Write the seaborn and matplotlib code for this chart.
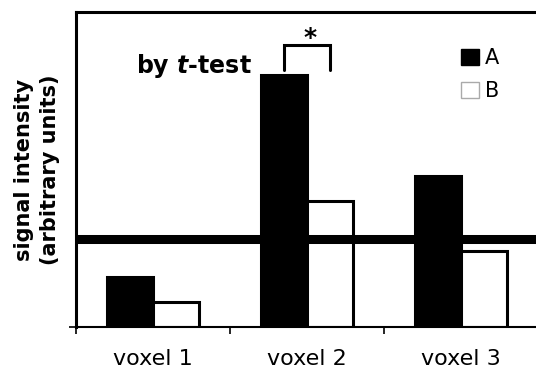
import matplotlib
matplotlib.use("Agg")
import matplotlib.pyplot as plt
import seaborn as sns
import pandas as pd
from matplotlib.patches import Patch

voxels = ["voxel 1", "voxel 2", "voxel 3"]
values_A = [1.6, 8.0, 4.8]
values_B = [0.8, 4.0, 2.4]
threshold = 2.8
conditions = ["A", "B"]

df = pd.DataFrame({
    "voxel": voxels * 2,
    "value": values_A + values_B,
    "cond": ["A"] * 3 + ["B"] * 3,
})

sns.set_style("white")
plt.rcParams['font.family'] = ['DejaVu Sans']
plt.rcParams.update({"text.color": "black", "axes.labelcolor": "black",
                     "xtick.color": "black", "ytick.color": "black"})

fig = plt.figure(figsize=(5.36, 3.71), dpi=100)
ax = fig.add_axes([76/536, 1 - 327/371, 462/536, 315/371])

sns.barplot(data=df, x="voxel", y="value", hue="cond",
            palette={"A": "black", "B": "white"}, saturation=1,
            edgecolor="black", linewidth=2.2, width=0.6, gap=0,
            errorbar=None, ax=ax, legend=False)

ax.axhline(threshold, color="black", lw=6.5, zorder=5)

ax.set_xlim(-0.5, 2.5)
ax.set_ylim(0, 10)
ax.set_xlabel("")
ax.set_ylabel("signal intensity\n(arbitrary units)", fontsize=15,
              fontweight="bold", labelpad=3, linespacing=1.4)

ax.set_xticks([0, 1, 2])
ax.set_xticklabels(voxels, fontsize=16)
ax.tick_params(axis="x", which="major", length=0, pad=16)
ax.set_xticks([-0.5, 0.5, 1.5, 2.5], minor=True)
ax.tick_params(axis="x", which="minor", length=5, width=1.2, direction="out", bottom=True)
ax.set_yticks([0])
ax.set_yticklabels([""])
ax.tick_params(axis="y", length=5, width=1.2, direction="out", left=True)

for s in ["left", "top", "right"]:
    ax.spines[s].set_linewidth(2.2)
    ax.spines[s].set_color("black")
ax.spines["bottom"].set_linewidth(1.5)
ax.spines["bottom"].set_color("black")

# significance bracket
ax.plot([0.85, 0.85, 1.15, 1.15], [8.15, 8.95, 8.95, 8.15],
        color="black", lw=2.2, solid_joinstyle="miter", clip_on=False)
ax.text(1.02, 8.8, "*", ha="center", va="bottom", fontsize=18, fontweight="bold")

ax.text(0.263, 8.3, "by $\\bfit{t}$-test", ha="center", va="center",
        fontsize=17, fontweight="bold")

handles = [Patch(facecolor="black", edgecolor="black"),
           Patch(facecolor="white", edgecolor="#aaaaaa")]
ax.legend(handles, conditions, loc="upper left", bbox_to_anchor=(0.833, 0.885),
          frameon=False, fontsize=15, handlelength=0.85, handleheight=0.85,
          handletextpad=0.3, labelspacing=0.62, borderaxespad=0, borderpad=0)

fig.savefig("out.png", dpi=100)
